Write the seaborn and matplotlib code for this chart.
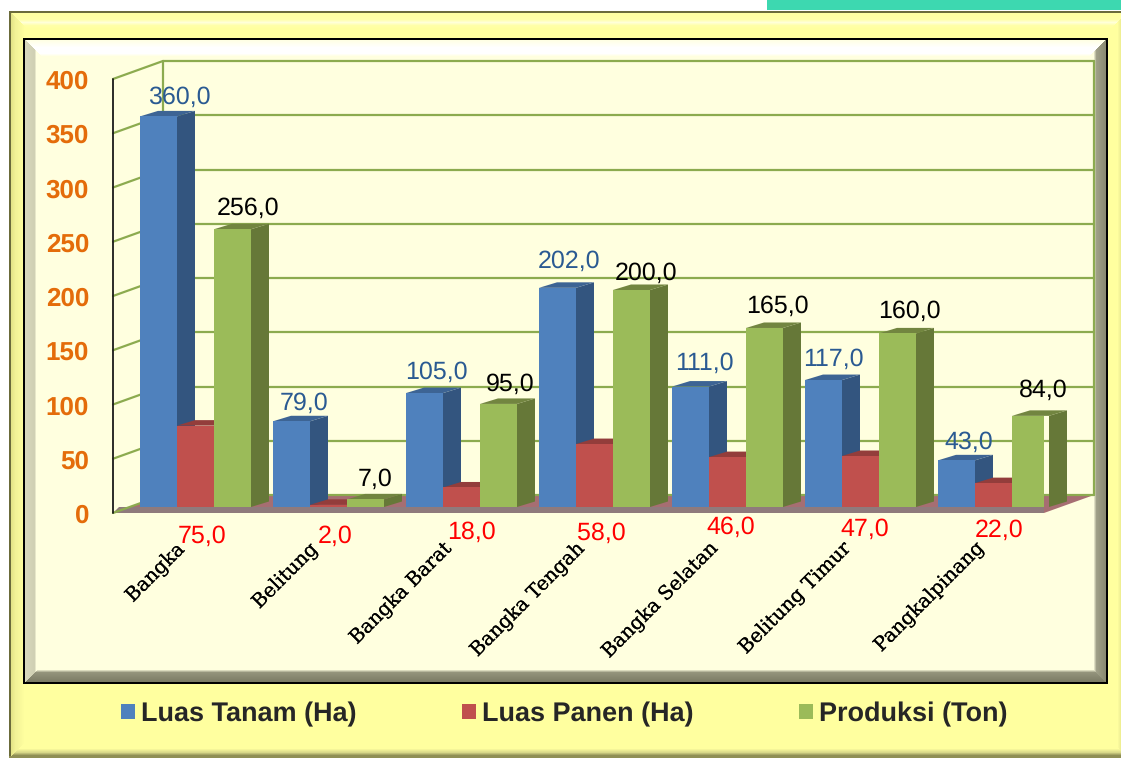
import numpy as np
import pandas as pd
import matplotlib
matplotlib.use("Agg")
import matplotlib.pyplot as plt
import matplotlib.patheffects as pe
from matplotlib.patches import Polygon
from matplotlib.transforms import ScaledTranslation
import seaborn as sns

# ---------- data ----------
categories = ["Bangka", "Belitung", "Bangka Barat", "Bangka Tengah",
              "Bangka Selatan", "Belitung Timur", "Pangkalpinang"]
series_names = ["Luas Tanam (Ha)", "Luas Panen (Ha)", "Produksi (Ton)"]
luas_tanam = [360, 79, 105, 202, 111, 117, 43]
luas_panen = [75, 2, 18, 58, 46, 47, 22]
produksi = [256, 7, 95, 200, 165, 160, 84]
y_ticks = [0, 50, 100, 150, 200, 250, 300, 350, 400]

# ---------- layout / style ----------
W, H = 1121, 758
FRONT = {"Luas Tanam (Ha)": "#4F81BD", "Luas Panen (Ha)": "#C0504D", "Produksi (Ton)": "#9BBB59"}
SIDE = {"#4f81bd": "#33557F", "#c0504d": "#8A3A38", "#9bbb59": "#667838"}
TOP = {"#4f81bd": "#3D6494", "#c0504d": "#933D3B", "#9bbb59": "#728540"}
GRID = "#8CAB4F"
SANS = "Liberation Sans"
# label nudges in pixels relative to (bar centre, bar top); layout only
blue_nudge = [(21, 19), (13, 18), (12, 21), (12, 26), (14, 23), (10, 21), (12, 18)]
green_nudge = [(16, 21), (10, 20), (12, 20), (15, 17), (13, 22), (12, 22), (13, 26)]
red_nudge = [(7, 29), (7, 29), (10, 25), (7, 26), (3, 20), (4, 22), (6, 23)]

sns.set_style("white")
plt.rcParams["text.hinting"] = "no_hinting"
plt.rcParams["text.hinting_factor"] = 1
fig = plt.figure(figsize=(W / 100, H / 100), dpi=100, facecolor="white")


def hexrgb(c):
    return np.array(matplotlib.colors.to_rgb(c))


def bevel(img, x0, y0, x1, y1, stops):
    """Paint a mitred bevelled panel; stops: side -> (distances, colours)."""
    yy, xx = np.mgrid[y0:y1, x0:x1]
    d = np.stack([xx - x0, x1 - 1 - xx, yy - y0, y1 - 1 - yy])
    side = d.argmin(axis=0)
    dist = d.min(axis=0).astype(float)
    out = np.zeros(dist.shape + (3,))
    for i, name in enumerate(["l", "r", "t", "b"]):
        ds, cols = stops[name]
        cols = np.array([hexrgb(c) for c in cols])
        m = side == i
        for ch in range(3):
            out[..., ch][m] = np.interp(dist[m], ds, cols[:, ch])
    vis_w = min(x1, img.shape[1]) - x0
    img[y0:y1, x0:x0 + vis_w] = out[:, :vis_w]


img = np.ones((H, W, 3))
img[0:10, 767:] = hexrgb("#3DD8B0")
# outer yellow panel
img[11:13, 9:] = hexrgb("#6B6B3A")
img[11:, 9:11] = hexrgb("#6B6B3A")
bevel(img, 11, 13, W + 6, H - 2, {
    "l": ([0, 4, 13], ["#E4E488", "#F2F296", "#FFFF9F"]),
    "r": ([5, 9, 13], ["#EAEA90", "#FFFFA0", "#FFFF9F"]),
    "t": ([0, 6, 9, 12, 15], ["#FFFFA0", "#FFFFA8", "#FFFFD8", "#FFFFA8", "#FFFF9F"]),
    "b": ([0, 3, 7], ["#8F8F55", "#D8D888", "#FFFF9F"]),
})
img[H - 2:, 9:] = hexrgb("#8F8F55")
# inner framed panel
img[38:684, 23:1108] = 0.0
bevel(img, 25, 40, 1106, 682, {
    "l": ([0, 9, 11], ["#D8D8BC", "#D0D0B4", "#FFFFDF"]),
    "r": ([0, 9, 12], ["#8A8A72", "#A0A088", "#FFFFDF"]),
    "t": ([0, 4, 7, 13, 16], ["#FFFFE4", "#FFFFF4", "#FFFFFF", "#FFFFFF", "#FFFFDF"]),
    "b": ([0, 9, 12], ["#7C7C66", "#94947C", "#FFFFDF"]),
})
bg = fig.add_axes([0, 0, 1, 1], zorder=0)
bg.imshow(img, extent=(0, W, H, 0), interpolation="bilinear", aspect="auto")
bg.axis("off")

# ---------- chart ----------
df = pd.DataFrame({
    "category": np.tile(categories, 3),
    "series": np.repeat(series_names, len(categories)),
    "value": luas_tanam + luas_panen + produksi,
})

AX_L, AX_R, AX_T, AX_B = 113, 1044, 73, 507
ax = fig.add_axes([AX_L / W, (H - AX_B) / H, (AX_R - AX_L) / W, (AX_B - AX_T) / H], zorder=1)
ax.patch.set_alpha(0)
sns.barplot(data=df, x="category", y="value", hue="series", order=categories,
            hue_order=series_names, palette=FRONT, width=111 / 133, gap=0,
            saturation=1, edgecolor="none", linewidth=0, ax=ax)
XL = (AX_L - 195.5) / 133
ax.set_xlim(XL, XL + (AX_R - AX_L) / 133)
ax.set_ylim(0, 400)
ax.set_xlabel("")
ax.set_ylabel("")
sns.despine(ax=ax, left=True, bottom=True)

px_x = 133.0                       # pixels per category
px_y = (AX_B - AX_T) / 400.0       # pixels per value unit
DX, DY = 18 / px_x, 5.5 / px_y     # bar depth in data units
WX, WY = 50 / px_x, 18 / px_y      # chart depth
FRONT_Y = -6 / px_y                # front wall zero line
x0f, x1f = XL, XL + (AX_R - AX_L) / px_x
x0b, x1b = x0f + WX, x1f + WX

# bars with depth (collected before extra patches are added)
bars = sorted([p for p in ax.patches if p.get_height() > 0], key=lambda p: p.get_x())

# floor
ax.add_patch(Polygon([(x0f, FRONT_Y), (x1f, FRONT_Y), (x1b, FRONT_Y + WY), (x0b, FRONT_Y + WY)],
                     closed=True, fc="#A66E72", ec="none", zorder=1, clip_on=False))
ax.add_patch(Polygon([(x0f, FRONT_Y), (x1f, FRONT_Y), (x1f, 0), (x0f + 0.045, 0)],
                     closed=True, fc="#8F7A7C", ec="none", zorder=1.1, clip_on=False))
# walls
grid_kw = dict(color=GRID, lw=1.6, zorder=1.5, clip_on=False, solid_capstyle="round")
for v in y_ticks:
    ax.plot([x0b, x1b], [v + FRONT_Y + WY] * 2, **grid_kw)
    ax.plot([x0f, x0b], [v + FRONT_Y, v + FRONT_Y + WY], **grid_kw)
top_val = y_ticks[-1]
ax.plot([x0b, x0b], [FRONT_Y + WY, top_val + FRONT_Y + WY], **grid_kw)
ax.plot([x1b, x1b], [FRONT_Y + WY, top_val + FRONT_Y + WY], **grid_kw)
ax.plot([x0f, x0f], [FRONT_Y, top_val + FRONT_Y], color="#1A1A1A", lw=1.3, zorder=1.6, clip_on=False)

for i, p in enumerate(bars):
    z = 3 + i
    p.set_zorder(z)
    x, w, h = p.get_x(), p.get_width(), p.get_height()
    c = matplotlib.colors.to_hex(p.get_facecolor())
    ax.add_patch(Polygon([(x + w, 0), (x + w + DX, DY), (x + w + DX, h + DY), (x + w, h)],
                         closed=True, fc=SIDE[c], ec="none", zorder=z - 0.2, clip_on=False))
    ax.add_patch(Polygon([(x, h), (x + DX, h + DY), (x + w + DX, h + DY), (x + w, h)],
                         closed=True, fc=TOP[c], ec="none", zorder=z - 0.1, clip_on=False))

# data labels
PT = 72 / 100
lab_font = dict(family=SANS, fontsize=18, ha="center", va="center", zorder=60, annotation_clip=False)
by_series = [bars[0::3], bars[1::3], bars[2::3]]
for j, (p, v) in enumerate(zip(by_series[0], luas_tanam)):
    nx, ny = blue_nudge[j]
    ax.annotate(f"{v:.1f}".replace(".", ","), (p.get_x() + p.get_width() / 2, v),
                xytext=(nx * PT, ny * PT), textcoords="offset points", color="#2A5A92", **lab_font)
for j, (p, v) in enumerate(zip(by_series[2], produksi)):
    nx, ny = green_nudge[j]
    ax.annotate(f"{v:.1f}".replace(".", ","), (p.get_x() + p.get_width() / 2, v),
                xytext=(nx * PT, ny * PT), textcoords="offset points", color="black", **lab_font)
for j, (p, v) in enumerate(zip(by_series[1], luas_panen)):
    nx, ny = red_nudge[j]
    ax.annotate(f"{v:.1f}".replace(".", ","), (p.get_x() + p.get_width() / 2, 0),
                xytext=(nx * PT, -ny * PT), textcoords="offset points", color="#FF0000", **lab_font)

# ticks
ax.set_yticks(y_ticks)
ax.set_yticklabels([str(v) for v in y_ticks], family=SANS, fontweight="bold",
                   fontsize=18.7, color="#E46C0A")
ax.tick_params(axis="y", length=0, pad=24 * PT)
shift_y = ScaledTranslation(0, -6.5 / 100, fig.dpi_scale_trans)
for t in ax.get_yticklabels():
    t.set_transform(t.get_transform() + shift_y)

ax.set_xticks(range(len(categories)))
ax.set_xticklabels(categories, rotation=45, ha="right", va="center", rotation_mode="anchor",
                   family="DejaVu Serif", fontsize=14, color="black")
ax.tick_params(axis="x", length=0, pad=41 * PT)
shift_x = ScaledTranslation(-15 / 100, 0, fig.dpi_scale_trans)
for t in ax.get_xticklabels():
    t.set_transform(t.get_transform() + shift_x)
    t.set_path_effects([pe.withStroke(linewidth=0.15, foreground="black")])

# legend
handles, labels = ax.get_legend_handles_labels()
if ax.get_legend() is not None:
    ax.get_legend().remove()
fig.legend(handles, labels, loc="center", bbox_to_anchor=(564.5 / W, (H - 714) / H),
           ncol=3, frameon=False, prop=dict(family=SANS, weight="bold", size=19.2),
           handlelength=0.52, handleheight=0.52, handletextpad=0.22,
           columnspacing=3.96, borderpad=0, borderaxespad=0)

fig.savefig("out.png", dpi=100)
